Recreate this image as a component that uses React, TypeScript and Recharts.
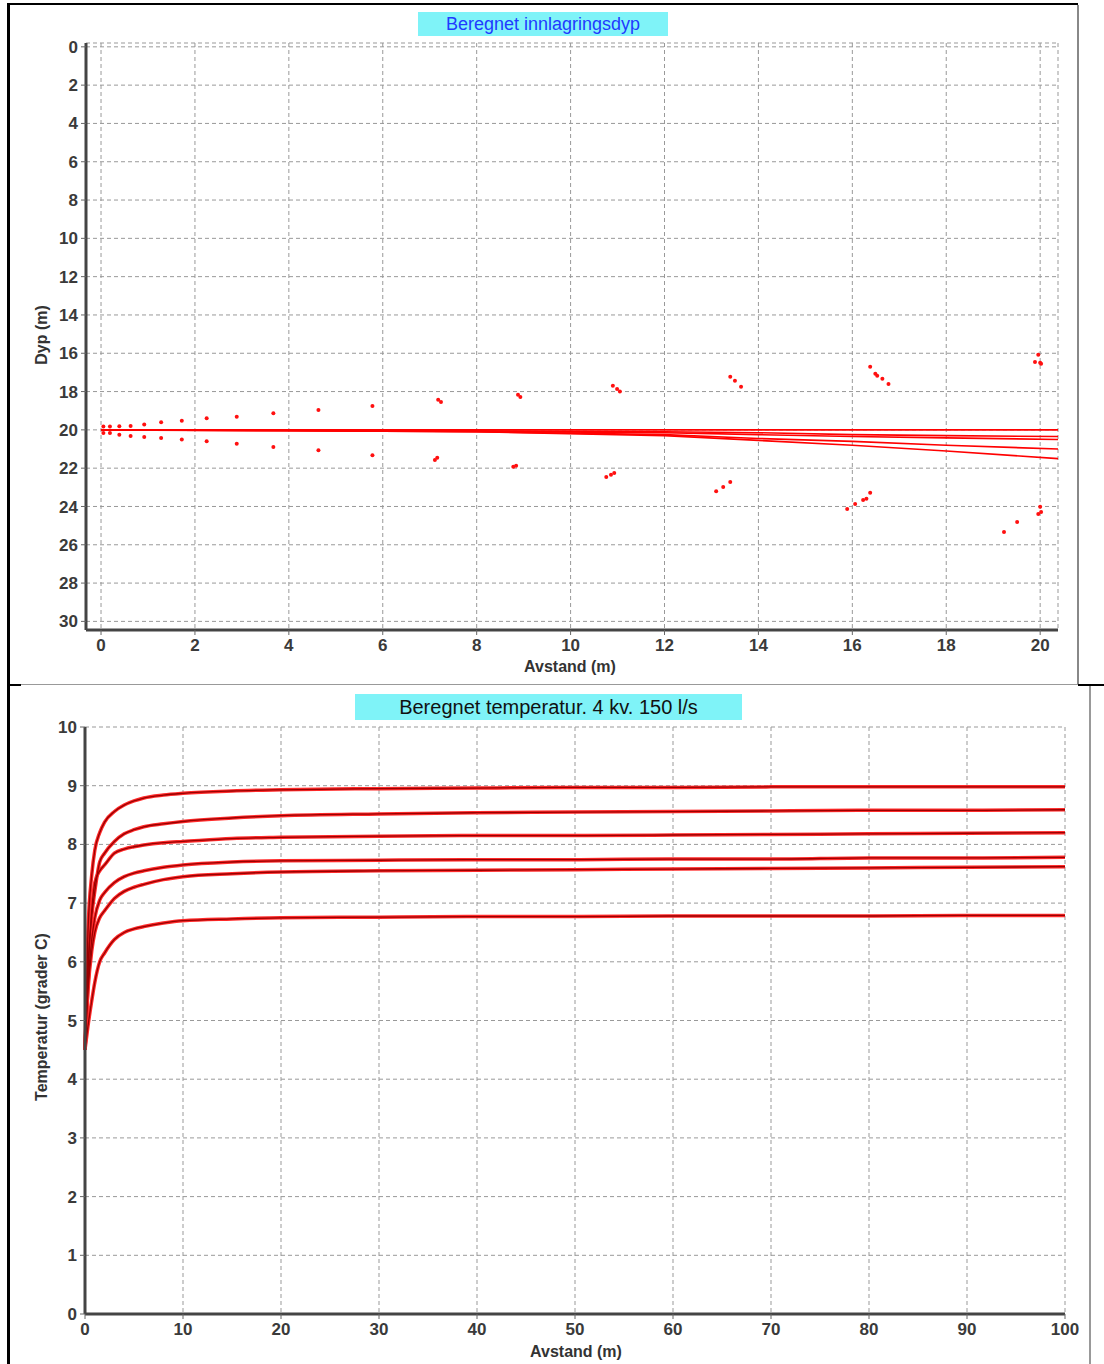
import {
  ComposedChart,
  LineChart,
  Line,
  Scatter,
  XAxis,
  YAxis,
  CartesianGrid,
} from "recharts";

// ---- top chart: Beregnet innlagringsdyp ----
const depthX = [0, 4, 8, 12, 14, 16, 18, 20.38];
const depthLine1 = [20.0, 20.0, 20.0, 20.0, 20.0, 20.0, 20.0, 20.0];
const depthLine2 = [20.0, 20.02, 20.05, 20.1, 20.15, 20.25, 20.3, 20.35];
const depthLine3 = [20.0, 20.03, 20.08, 20.15, 20.25, 20.35, 20.42, 20.5];
const depthLine4 = [20.0, 20.04, 20.1, 20.25, 20.45, 20.6, 20.8, 21.0];
const depthLine5 = [20.0, 20.05, 20.1, 20.3, 20.55, 20.8, 21.1, 21.5];
const depthLines = [depthLine1, depthLine2, depthLine3, depthLine4, depthLine5];

const edgeUpperX = [
  0.05, 0.19, 0.39, 0.63, 0.92, 1.28, 1.72, 2.25, 2.89, 3.67, 4.63, 5.78, 7.18,
  7.24, 8.88, 8.93, 10.9, 10.99, 11.05, 13.4, 13.5, 13.63, 16.38, 16.49, 16.53,
  16.64, 16.77, 19.96, 19.89, 20.0, 20.02,
];
const edgeUpperY = [
  19.83, 19.83, 19.81, 19.8, 19.72, 19.6, 19.53, 19.4, 19.31, 19.13, 18.96,
  18.75, 18.43, 18.55, 18.17, 18.28, 17.7, 17.86, 18.0, 17.23, 17.44, 17.75,
  16.7, 17.07, 17.18, 17.33, 17.6, 16.08, 16.45, 16.5, 16.55,
];
const edgeLowerX = [
  0.05, 0.19, 0.39, 0.63, 0.92, 1.28, 1.72, 2.25, 2.89, 3.67, 4.63, 5.78, 7.11,
  7.16, 8.78, 8.84, 10.76, 10.86, 10.93, 13.1, 13.25, 13.4, 15.89, 16.06, 16.23,
  16.3, 16.38, 19.23, 19.51, 19.96, 20.02, 20.0,
];
const edgeLowerY = [
  20.17, 20.17, 20.25, 20.32, 20.37, 20.43, 20.5, 20.6, 20.73, 20.9, 21.07,
  21.32, 21.57, 21.46, 21.93, 21.88, 22.46, 22.35, 22.25, 23.2, 22.98, 22.72,
  24.13, 23.87, 23.66, 23.6, 23.29, 25.33, 24.81, 24.39, 24.29, 24.02,
];

const depthXTicks = [0, 2, 4, 6, 8, 10, 12, 14, 16, 18, 20];
const depthXMinor = [
  0.5, 1, 1.5, 2.5, 3, 3.5, 4.5, 5, 5.5, 6.5, 7, 7.5, 8.5, 9, 9.5, 10.5, 11,
  11.5, 12.5, 13, 13.5, 14.5, 15, 15.5, 16.5, 17, 17.5, 18.5, 19, 19.5,
];
const depthYTicks = [0, 2, 4, 6, 8, 10, 12, 14, 16, 18, 20, 22, 24, 26, 28, 30];

// ---- bottom chart: Beregnet temperatur ----
const tempX = [
  0, 0.3, 0.7, 1, 1.5, 2, 3, 4, 5, 6, 8, 10, 15, 20, 30, 40, 50, 60, 70, 80, 90,
  100,
];
const temp1 = [
  4.5, 6.5, 7.5, 7.9, 8.2, 8.38, 8.56, 8.67, 8.74, 8.79, 8.84, 8.87, 8.91, 8.93,
  8.95, 8.96, 8.97, 8.97, 8.98, 8.98, 8.98, 8.98,
];
const temp2 = [
  4.5, 5.9, 6.8, 7.2, 7.7, 7.85, 8.05, 8.18, 8.25, 8.3, 8.35, 8.39, 8.45, 8.49,
  8.52, 8.54, 8.55, 8.56, 8.57, 8.58, 8.58, 8.59,
];
const temp3 = [
  4.5, 5.8, 6.9, 7.35, 7.55, 7.65, 7.85, 7.92, 7.96, 7.99, 8.03, 8.05, 8.1, 8.12,
  8.14, 8.15, 8.15, 8.16, 8.17, 8.18, 8.19, 8.2,
];
const temp4 = [
  4.5, 5.6, 6.4, 6.75, 7.05, 7.18, 7.35, 7.45, 7.51, 7.55, 7.61, 7.65, 7.7, 7.72,
  7.73, 7.74, 7.74, 7.75, 7.75, 7.77, 7.77, 7.78,
];
const temp5 = [
  4.5, 5.5, 6.2, 6.5, 6.75, 6.87, 7.08, 7.2, 7.27, 7.32, 7.4, 7.45, 7.5, 7.53,
  7.55, 7.56, 7.57, 7.58, 7.59, 7.6, 7.61, 7.62,
];
const temp6 = [
  4.5, 4.9, 5.35, 5.65, 6.0, 6.15, 6.38, 6.5, 6.56, 6.6, 6.66, 6.7, 6.73, 6.75,
  6.76, 6.77, 6.77, 6.78, 6.78, 6.78, 6.79, 6.79,
];
const tempSeries = ["t1", "t2", "t3", "t4", "t5", "t6"];
const tempValues = [temp1, temp2, temp3, temp4, temp5, temp6];

const tempXTicks = [0, 10, 20, 30, 40, 50, 60, 70, 80, 90, 100];
const tempXMinor = Array.from({ length: 101 }, (_, i) => i).filter(
  (v) => v % 10 !== 0
);
const tempYTicks = [0, 1, 2, 3, 4, 5, 6, 7, 8, 9, 10];

const depthLineData = depthLines.map((ys) =>
  depthX.map((x, i) => ({ x, y: ys[i] }))
);
const upperData = edgeUpperX.map((x, i) => ({ x, y: edgeUpperY[i] }));
const lowerData = edgeLowerX.map((x, i) => ({ x, y: edgeLowerY[i] }));

const tempData = tempX.map((x, i) => {
  const row: Record<string, number> = { x };
  tempSeries.forEach((k, j) => (row[k] = tempValues[j][i]));
  return row;
});

const FONT = "'Liberation Sans', Arial, sans-serif";
const tickStyle = {
  fontFamily: FONT,
  fontSize: 17,
  fontWeight: 700,
  fill: "#3a3a3a",
};

const Dot = (props: any) => (
  <circle cx={props.cx} cy={props.cy} r={2} fill="#ff1010" />
);

const abs = (s: React.CSSProperties): React.CSSProperties => ({
  position: "absolute",
  ...s,
});

export default function App() {
  return (
    <div
      style={{
        position: "absolute",
        left: 0,
        top: 0,
        width: 1104,
        height: 1364,
        background: "#fff",
        overflow: "hidden",
        fontFamily: FONT,
      }}
    >
      {/* top chart */}
      <div style={abs({ left: 0, top: 0 })}>
        <ComposedChart
          width={1104}
          height={685}
          margin={{ top: 43, right: 46, bottom: 25, left: 36 }}
        >
          <CartesianGrid stroke="#999" strokeDasharray="4 3" />
          <XAxis
            xAxisId="minor"
            type="number"
            dataKey="x"
            domain={[-0.32, 20.38]}
            allowDataOverflow
            ticks={depthXMinor}
            interval={0}
            height={0}
            axisLine={false}
            tickSize={3}
            tickLine={{ stroke: "#666" }}
            tickFormatter={() => ""}
          />
          <XAxis
            type="number"
            dataKey="x"
            domain={[-0.32, 20.38]}
            allowDataOverflow
            ticks={depthXTicks}
            interval={0}
            height={30}
            tickSize={5}
            tickMargin={4}
            axisLine={{ stroke: "#444", strokeWidth: 3 }}
            tickLine={{ stroke: "#666" }}
            tick={tickStyle}
          />
          <XAxis
            xAxisId="topb"
            orientation="top"
            type="number"
            dataKey="x"
            domain={[-0.32, 20.38]}
            height={0}
            tick={false}
            tickLine={false}
            axisLine={{ stroke: "#999", strokeWidth: 2 }}
          />
          <YAxis
            type="number"
            dataKey="y"
            domain={[-0.2, 30.45]}
            allowDataOverflow
            reversed
            ticks={depthYTicks}
            interval={0}
            width={50}
            tickSize={5}
            tickMargin={3}
            axisLine={{ stroke: "#444", strokeWidth: 3 }}
            tickLine={{ stroke: "#666" }}
            tick={tickStyle}
          />
          <YAxis
            yAxisId="rightb"
            orientation="right"
            type="number"
            domain={[-0.2, 30.45]}
            width={0}
            tick={false}
            tickLine={false}
            axisLine={{ stroke: "#999", strokeWidth: 2 }}
          />
          {depthLineData.map((d, i) => (
            <Line
              key={`dl-${i}`}
              data={d}
              dataKey="y"
              type="linear"
              stroke="#ff0000"
              strokeWidth={1.6}
              dot={false}
              isAnimationActive={false}
            />
          ))}
          <Scatter data={upperData} dataKey="y" shape={Dot} isAnimationActive={false} />
          <Scatter data={lowerData} dataKey="y" shape={Dot} isAnimationActive={false} />
        </ComposedChart>
      </div>

      {/* bottom chart */}
      <div style={abs({ left: 0, top: 685 })}>
        <LineChart
          width={1104}
          height={679}
          data={tempData}
          margin={{ top: 42, right: 39, bottom: 25, left: 40 }}
        >
          <CartesianGrid stroke="#999" strokeDasharray="4 3" />
          <XAxis
            xAxisId="minor"
            type="number"
            dataKey="x"
            domain={[0, 100]}
            ticks={tempXMinor}
            interval={0}
            height={0}
            axisLine={false}
            tickSize={3}
            tickLine={{ stroke: "#777" }}
            tickFormatter={() => ""}
          />
          <XAxis
            type="number"
            dataKey="x"
            domain={[0, 100]}
            ticks={tempXTicks}
            interval={0}
            height={25}
            tickSize={5}
            tickMargin={4}
            axisLine={{ stroke: "#444", strokeWidth: 3 }}
            tickLine={{ stroke: "#666" }}
            tick={tickStyle}
          />
          <YAxis
            type="number"
            domain={[0, 10]}
            ticks={tempYTicks}
            interval={0}
            width={45}
            tickSize={5}
            tickMargin={3}
            axisLine={{ stroke: "#444", strokeWidth: 3 }}
            tickLine={{ stroke: "#666" }}
            tick={tickStyle}
          />
          {tempSeries.map((k) => (
            <Line
              key={`${k}-halo`}
              dataKey={k}
              type="monotone"
              stroke="#ff2a2a"
              strokeWidth={3.5}
              dot={false}
              isAnimationActive={false}
            />
          ))}
          {tempSeries.map((k) => (
            <Line
              key={`${k}-core`}
              dataKey={k}
              type="monotone"
              stroke="#9a0000"
              strokeWidth={1.3}
              dot={false}
              isAnimationActive={false}
            />
          ))}
        </LineChart>
      </div>

      {/* titles */}
      <div
        style={abs({
          left: 418,
          top: 12,
          width: 250,
          height: 24,
          background: "#7ff3f8",
          color: "#1f3bff",
          fontSize: 18,
          lineHeight: "24px",
          textAlign: "center",
        })}
      >
        Beregnet innlagringsdyp
      </div>
      <div
        style={abs({
          left: 355,
          top: 694,
          width: 387,
          height: 26,
          background: "#7ff3f8",
          color: "#111",
          fontSize: 20,
          lineHeight: "26px",
          textAlign: "center",
        })}
      >
        Beregnet temperatur. 4 kv. 150 l/s
      </div>

      {/* axis titles */}
      <div
        style={abs({
          left: 470,
          top: 658,
          width: 200,
          textAlign: "center",
          fontSize: 16,
          fontWeight: 700,
          color: "#333",
        })}
      >
        Avstand (m)
      </div>
      <div
        style={abs({
          left: 476,
          top: 1343,
          width: 200,
          textAlign: "center",
          fontSize: 16,
          fontWeight: 700,
          color: "#333",
        })}
      >
        Avstand (m)
      </div>
      <div
        style={abs({
          left: 42 - 100,
          top: 335 - 10,
          width: 200,
          height: 20,
          lineHeight: "20px",
          textAlign: "center",
          fontSize: 16,
          fontWeight: 700,
          color: "#333",
          transform: "rotate(-90deg)",
        })}
      >
        Dyp (m)
      </div>
      <div
        style={abs({
          left: 42 - 150,
          top: 1017 - 10,
          width: 300,
          height: 20,
          lineHeight: "20px",
          textAlign: "center",
          fontSize: 16,
          fontWeight: 700,
          color: "#333",
          transform: "rotate(-90deg)",
        })}
      >
        Temperatur (grader C)
      </div>

      {/* document table frame */}
      <div style={abs({ left: 7, top: 3, width: 3, height: 1361, background: "#000" })} />
      <div style={abs({ left: 7, top: 3, width: 1071, height: 2, background: "#000" })} />
      <div style={abs({ left: 1077, top: 5, width: 2, height: 680, background: "#888" })} />
      <div style={abs({ left: 7, top: 684, width: 14, height: 2, background: "#000" })} />
      <div style={abs({ left: 21, top: 684, width: 1057, height: 1, background: "#999" })} />
      <div style={abs({ left: 1078, top: 684, width: 26, height: 2, background: "#000" })} />
      <div style={abs({ left: 1089, top: 686, width: 2, height: 678, background: "#999" })} />
    </div>
  );
}
